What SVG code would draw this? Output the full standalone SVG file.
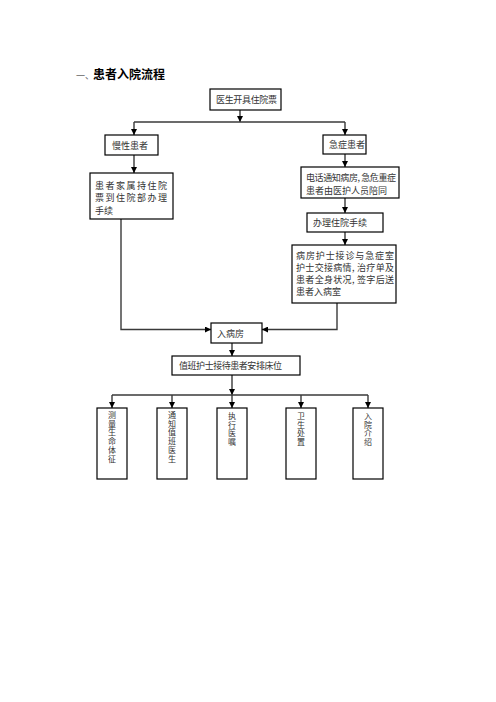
<svg xmlns="http://www.w3.org/2000/svg" width="496" height="702" viewBox="0 0 496 702">
<style>
  .box { fill: #ffffff; stroke: #000000; stroke-width: 1.2; }
  .t { font-family: "Noto Sans CJK SC", "Noto Sans", sans-serif; font-size: 9px; fill: #333333; }
  .v { font-family: "Noto Sans CJK SC", "Noto Sans", sans-serif; font-size: 8px; fill: #333333; writing-mode: vertical-rl; letter-spacing: 0.7px; }
  .title { font-family: "Noto Sans CJK SC", "Noto Sans", sans-serif; font-size: 12px; font-weight: bold; fill: #000000; }
  .c { fill: none; stroke: #3a3a3a; stroke-width: 1.4; }
</style>
<defs>
  <marker id="arr" markerUnits="userSpaceOnUse" markerWidth="6" markerHeight="6" refX="6" refY="3" orient="auto">
    <path d="M0,0 L6,3 L0,6 Z" fill="#000000"/>
  </marker>
</defs>
<rect width="496" height="702" fill="#ffffff"/>

<g id="title">
  <text x="76" y="79" class="title"><tspan style="font-weight:normal;fill:#666666;font-size:9px">一、</tspan><tspan x="93">患者入院流程</tspan></text>
</g>

<g id="connectors">
  <path class="c" d="M240,110 V122" marker-end="url(#arr)"/>
  <path class="c" d="M134,122 H345"/>
  <path class="c" d="M134,122 V135" marker-end="url(#arr)"/>
  <path class="c" d="M345,122 V135" marker-end="url(#arr)"/>
  <path class="c" d="M134,155 V173" marker-end="url(#arr)"/>
  <path class="c" d="M345,154 V167" marker-end="url(#arr)"/>
  <path class="c" d="M345,198 V213" marker-end="url(#arr)"/>
  <path class="c" d="M345,232 V245" marker-end="url(#arr)"/>
  <path class="c" d="M121,219 V329.5 H211" marker-end="url(#arr)"/>
  <path class="c" d="M337,303 V329.5 H262" marker-end="url(#arr)"/>
  <path class="c" d="M232,343 V356" marker-end="url(#arr)"/>
  <path class="c" d="M232,375 V395" marker-end="url(#arr)"/>
  <path class="c" d="M112,395 H368"/>
  <path class="c" d="M112,395 V408" marker-end="url(#arr)"/>
  <path class="c" d="M172,395 V408" marker-end="url(#arr)"/>
  <path class="c" d="M232,395 V408" marker-end="url(#arr)"/>
  <path class="c" d="M301,395 V408" marker-end="url(#arr)"/>
  <path class="c" d="M368,395 V408" marker-end="url(#arr)"/>
</g>

<g id="n1">
  <rect class="box" x="210" y="89" width="71" height="21"/>
  <text class="t" x="216" y="103" textLength="61" lengthAdjust="spacing">医生开具住院票</text>
</g>
<g id="n2">
  <rect class="box" x="105" y="135" width="53" height="20"/>
  <text class="t" x="112" y="148.5">慢性患者</text>
</g>
<g id="n3">
  <rect class="box" x="323" y="135" width="43" height="19"/>
  <text class="t" x="329" y="148">急症患者</text>
</g>
<g id="n4">
  <rect class="box" x="90" y="173" width="83" height="46"/>
  <text class="t" x="95" y="188.5" textLength="72" lengthAdjust="spacing">患者家属持住院</text>
  <text class="t" x="95" y="201" textLength="72" lengthAdjust="spacing">票到住院部办理</text>
  <text class="t" x="95" y="213.5">手续</text>
</g>
<g id="n5">
  <rect class="box" x="301" y="167" width="98" height="31"/>
  <text class="t" x="306" y="181" textLength="90" lengthAdjust="spacing">电话通知病房, 急危重症</text>
  <text class="t" x="306" y="194">患者由医护人员陪同</text>
</g>
<g id="n6">
  <rect class="box" x="307" y="213" width="76" height="19"/>
  <text class="t" x="313" y="226">办理住院手续</text>
</g>
<g id="n7">
  <rect class="box" x="292" y="245" width="104" height="58"/>
  <text class="t" x="296" y="258.5" textLength="98" lengthAdjust="spacing">病房护士接诊与急症室</text>
  <text class="t" x="296" y="270.5" textLength="98" lengthAdjust="spacing">护士交接病情, 治疗单及</text>
  <text class="t" x="296" y="282.5" textLength="98" lengthAdjust="spacing">患者全身状况, 签字后送</text>
  <text class="t" x="296" y="294.5">患者入病室</text>
</g>
<g id="n8">
  <rect class="box" x="211" y="323" width="51" height="20"/>
  <text class="t" x="217" y="336.5">入病房</text>
</g>
<g id="n9">
  <rect class="box" x="172" y="356" width="128" height="19"/>
  <text class="t" x="179" y="369" textLength="103" lengthAdjust="spacing">值班护士接待患者安排床位</text>
</g>

<g id="b1">
  <rect class="box" x="97" y="408" width="30" height="71"/>
  <text class="v" x="112" y="411">测量生命体征</text>
</g>
<g id="b2">
  <rect class="box" x="157" y="408" width="30" height="71"/>
  <text class="v" x="172" y="411">通知值班医生</text>
</g>
<g id="b3">
  <rect class="box" x="217" y="408" width="30" height="71"/>
  <text class="v" x="232" y="412">执行医嘱</text>
</g>
<g id="b4">
  <rect class="box" x="286" y="408" width="30" height="71"/>
  <text class="v" x="301" y="412">卫生处置</text>
</g>
<g id="b5">
  <rect class="box" x="353" y="408" width="30" height="71"/>
  <text class="v" x="368" y="412">入院介绍</text>
</g>
</svg>
